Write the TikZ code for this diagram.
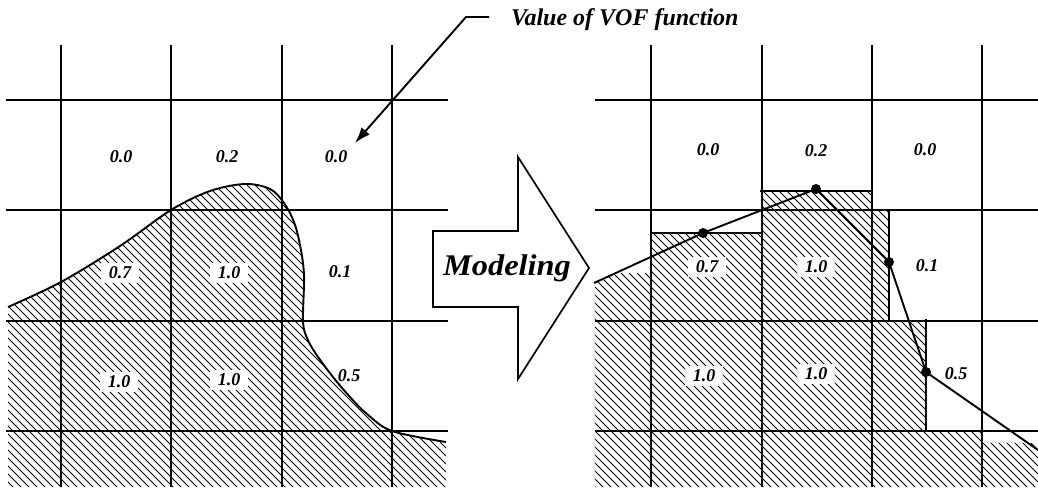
\documentclass[tikz,border=0pt]{standalone}
\usepackage{fontspec}
\setmainfont{Liberation Serif}
\usetikzlibrary{arrows.meta}
\begin{document}
\begin{tikzpicture}[x=1pt,y=-1pt,
  grid/.style={line width=2.1pt},
  hatch/.style={line width=1pt},
  edge/.style={line width=1.9pt},
  val/.style={font=\fontsize{18}{20}\selectfont\bfseries\itshape, inner sep=0pt},
  valbg/.style={val, fill=white, inner xsep=8pt, inner ysep=3.5pt},
  dot/.style={circle, fill=black, inner sep=0pt, minimum size=10pt}]
\useasboundingbox (0,0) rectangle (1038,487);

% ---------- left: hatched fluid ----------
\begin{scope}
\clip plot[smooth,tension=0.55] coordinates {(8,307) (61,282) (120,246) (171,210) (210,191) (245,184) (270,189) (284,203) (294,222) (300,245) (304,275) (303,321) (307,338) (316,354) (333,377) (350,397) (367,414) (392,431) (446,442)}
  -- (446,487) -- (8,487) -- cycle;
\foreach \i in {-320,-312,...,450} \draw[hatch] (\i,170) -- ++(330,330);
\end{scope}

% left grid
\foreach \x in {61,171,282,392} \draw[grid] (\x,45) -- (\x,487);
\foreach \y in {100,210,321,431} \draw[grid] (6,\y) -- (448,\y);

% left interface
\draw[edge] plot[smooth,tension=0.55] coordinates {(8,307) (61,282) (120,246) (171,210) (210,191) (245,184) (270,189) (284,203) (294,222) (300,245) (304,275) (303,321) (307,338) (316,354) (333,377) (350,397) (367,414) (392,431) (446,442)};

% ---------- right: hatched model ----------
\begin{scope}
\clip (595,283) -- (615.4,273) -- (651,273) -- (651,233) -- (762,233) -- (762,191) -- (872,191) -- (872,210) -- (889,210) -- (889,321) -- (926,321) -- (926,431) -- (982,431) -- (982,443) -- (1038,443) -- (1038,487) -- (595,487) -- cycle;
\foreach \i in {280,288,...,1050} \draw[hatch] (\i,180) -- ++(320,320);
\end{scope}

% right grid
\foreach \x in {651,762,872,982} \draw[grid] (\x,45) -- (\x,487);
\foreach \y in {100,210,321,431} \draw[grid] (595,\y) -- (1038,\y);

% step outlines
\draw[edge] (651,233) -- (762,233);
\draw[edge] (760,191) -- (872,191);
\draw[edge] (889,209) -- (889,321);
\draw[edge] (926,319) -- (926,431);

% reconstructed interface
\coordinate (p0) at (594,283);
\coordinate (p1) at (703,233);
\coordinate (p2) at (816,189);
\coordinate (p3) at (889,262);
\coordinate (p4) at (926,372);
\coordinate (p5) at (1038,450);
\draw[edge] (p0) -- (p1) -- (p2) -- (p3) -- (p4) -- (p5);
\foreach \p in {p1,p2,p3,p4} \node[dot] (d\p) at (\p) {};

% ---------- labels ----------
\node[val]   (l11) at (121,157) {0.0};
\node[val]   (l12) at (227,157) {0.2};
\node[val]   (l13) at (336,157) {0.0};
\node[valbg] (l21) at (120,273) {0.7};
\node[valbg] (l22) at (229,273) {1.0};
\node[val]   (l23) at (340,272) {0.1};
\node[valbg] (l31) at (119,382) {1.0};
\node[valbg] (l32) at (229,380) {1.0};
\node[val]   (l33) at (349,376) {0.5};

\node[val]   (r11) at (708,150) {0.0};
\node[val]   (r12) at (816,151) {0.2};
\node[val]   (r13) at (925,150) {0.0};
\node[valbg] (r21) at (707,267) {0.7};
\node[valbg] (r22) at (816,267) {1.0};
\node[val]   (r23) at (927,266) {0.1};
\node[valbg] (r31) at (704,376) {1.0};
\node[valbg] (r32) at (816,374) {1.0};
\node[val]   (r33) at (956,374) {0.5};

% ---------- callout ----------
\node[font=\fontsize{24}{26}\selectfont\bfseries\itshape, anchor=base west, inner sep=0pt] (vof) at (511,26) {Value of VOF function};
\coordinate (c1) at (489,17);
\coordinate (c2) at (466,17);
\coordinate (ctip) at (355,143);
\draw[edge, -{Latex[length=16pt,width=11pt]}] (c1) -- (c2) -- (ctip);

% ---------- Modeling arrow ----------
\draw[line width=1.7pt, line join=miter] (433,231) -- (518,231) -- (518,157) -- (589,268) -- (518,379) -- (518,307) -- (433,307) -- cycle;
\node[inner sep=0pt, font=\fontsize{30}{32}\selectfont\bfseries\itshape] (model) at (507,268) {\scalebox{1.08}[1]{Modeling}};
\end{tikzpicture}
\end{document}
